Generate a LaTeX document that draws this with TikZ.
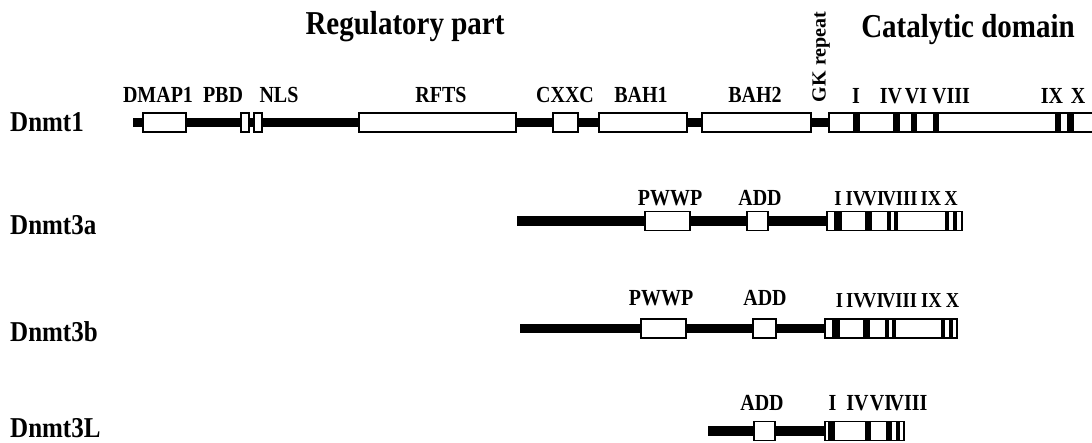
\documentclass[tikz,border=0pt]{standalone}
\usepackage{fontspec}
\usepackage{graphicx}
\setmainfont{Liberation Serif}
\usetikzlibrary{backgrounds}
\newcommand{\tallt}[1]{\scalebox{1}[1.15]{#1}}
\begin{document}
\begin{tikzpicture}[x=1pt,y=-1pt,
  lab/.style={font=\bfseries\fontsize{20}{20}\selectfont, inner sep=0, anchor=base},
  num/.style={font=\bfseries\fontsize{18.5}{18.5}\selectfont, inner sep=0, anchor=base},
  rowlab/.style={font=\bfseries\fontsize{25}{25}\selectfont, inner sep=0, anchor=base west},
  titlelab/.style={font=\bfseries\fontsize{29}{29}\selectfont, inner sep=0, anchor=base},
  backbone/.style={line width=9.5pt},
  dom/.style={draw, line width=1.8pt, fill=white, inner sep=0, minimum height=19pt},
  bar/.style={fill=black}
]
\clip (0,0) rectangle (1092,442);
\begin{pgfonlayer}{background}
\fill[white] (0,0) rectangle (1092,442);
\end{pgfonlayer}

% titles
\node[titlelab] (treg) at (405,34) {\tallt{Regulatory part}};
\node[titlelab] (tcat) at (968,37) {\tallt{Catalytic domain}};
\node[font=\bfseries\fontsize{20}{20}\selectfont, inner sep=0, rotate=90] (gk) at (821,57) {GK repeat};

% ---------------- Dnmt1 ----------------
\node[rowlab] (n1) at (10,131) {\tallt{Dnmt1}};
\coordinate (d1s) at (133,122.5);
\node[dom, minimum width=43] (dmap1) at (164.5,122.5) {};
\node[dom, minimum width=8] (pbd) at (245,122.5) {};
\node[dom, minimum width=8] (nls) at (258,122.5) {};
\node[dom, minimum width=157] (rfts) at (437.5,122.5) {};
\node[dom, minimum width=25] (cxxc) at (565.5,122.5) {};
\node[dom, minimum width=88] (bah1) at (643,122.5) {};
\node[dom, minimum width=109] (bah2) at (756.5,122.5) {};
\node[dom, minimum width=280] (cat1) at (969,122.5) {};
\begin{pgfonlayer}{background}
\draw[backbone] (d1s) -- (cat1.west);
\end{pgfonlayer}
\foreach \a/\b in {853/860, 893/900, 911/917, 933/939, 1055/1061, 1067/1074}
  \fill[bar] (\a,113) rectangle (\b,132);
\node[lab] (l-dmap1) at (158,102) {\tallt{DMAP1}};
\node[lab] (l-pbd) at (223,102) {\tallt{PBD}};
\node[lab] (l-nls) at (279,102) {\tallt{NLS}};
\node[lab] (l-rfts) at (441,102) {\tallt{RFTS}};
\node[lab] (l-cxxc) at (565,102) {\tallt{CXXC}};
\node[lab] (l-bah1) at (641,102) {\tallt{BAH1}};
\node[lab] (l-bah2) at (755,102) {\tallt{BAH2}};
\node[lab] (c1-1) at (856,103) {\tallt{I}};
\node[lab] (c1-4) at (891,103) {\tallt{IV}};
\node[lab] (c1-6) at (916,103) {\tallt{VI}};
\node[lab] (c1-8) at (951,103) {\tallt{VIII}};
\node[lab] (c1-9) at (1052,103) {\tallt{IX}};
\node[lab] (c1-10) at (1078,103) {\tallt{X}};

% ---------------- Dnmt3a ----------------
\node[rowlab] (n3a) at (10,234) {\tallt{Dnmt3a}};
\coordinate (a3s) at (517,221);
\node[dom, minimum width=45] (pwwpa) at (667.5,221) {};
\node[dom, minimum width=21] (adda) at (757.5,221) {};
\node[dom, minimum width=135] (cata) at (894.5,221) {};
\begin{pgfonlayer}{background}
\draw[backbone] (a3s) -- (cata.west);
\end{pgfonlayer}
\foreach \a/\b in {834/842, 865/872, 887/891, 894/898, 945/949, 953/957}
  \fill[bar] (\a,211.5) rectangle (\b,230.5);
\node[lab] (l-pwwpa) at (670,205) {\tallt{PWWP}};
\node[lab] (l-adda) at (760,205) {\tallt{ADD}};
\node[num] (ca-1) at (838,205) {\tallt{I}};
\node[num] (ca-4) at (856,205) {\tallt{IV}};
\node[num] (ca-6) at (874,205) {\tallt{VI}};
\node[num] (ca-8) at (900,205) {\tallt{VIII}};
\node[num] (ca-9) at (931,205) {\tallt{IX}};
\node[num] (ca-10) at (951,205) {\tallt{X}};

% ---------------- Dnmt3b ----------------
\node[rowlab] (n3b) at (10,341) {\tallt{Dnmt3b}};
\coordinate (b3s) at (520,328.5);
\node[dom, minimum width=45] (pwwpb) at (663.5,328.5) {};
\node[dom, minimum width=23] (addb) at (764.5,328.5) {};
\node[dom, minimum width=132] (catb) at (891,328.5) {};
\begin{pgfonlayer}{background}
\draw[backbone] (b3s) -- (catb.west);
\end{pgfonlayer}
\foreach \a/\b in {832/840, 863/870, 885/889, 892/896, 941/945, 949/953}
  \fill[bar] (\a,319) rectangle (\b,338);
\node[lab] (l-pwwpb) at (661,305) {\tallt{PWWP}};
\node[lab] (l-addb) at (765,305) {\tallt{ADD}};
\node[num] (cb-1) at (839.5,307) {\tallt{I}};
\node[num] (cb-4) at (856.5,307) {\tallt{IV}};
\node[num] (cb-6) at (873.5,307) {\tallt{VI}};
\node[num] (cb-8) at (899.5,307) {\tallt{VIII}};
\node[num] (cb-9) at (931.5,307) {\tallt{IX}};
\node[num] (cb-10) at (952.5,307) {\tallt{X}};

% ---------------- Dnmt3L ----------------
\node[rowlab] (n3l) at (10,437.5) {\tallt{Dnmt3L}};
\coordinate (l3s) at (708,431);
\node[dom, minimum width=21] (addl) at (764.5,431) {};
\node[dom, minimum width=79] (catl) at (864.5,431) {};
\begin{pgfonlayer}{background}
\draw[backbone] (l3s) -- (catl.west);
\end{pgfonlayer}
\foreach \a/\b in {828/835, 865/871, 886/892, 896/900}
  \fill[bar] (\a,421.5) rectangle (\b,440.5);
\node[lab] (l-addl) at (762,410) {\tallt{ADD}};
\node[lab] (cl-1) at (832.5,410) {\tallt{I}};
\node[lab] (cl-4) at (857.5,410) {\tallt{IV}};
\node[lab] (cl-6) at (881,410) {\tallt{VI}};
\node[lab] (cl-8) at (908.5,410) {\tallt{VIII}};
\end{tikzpicture}
\end{document}
